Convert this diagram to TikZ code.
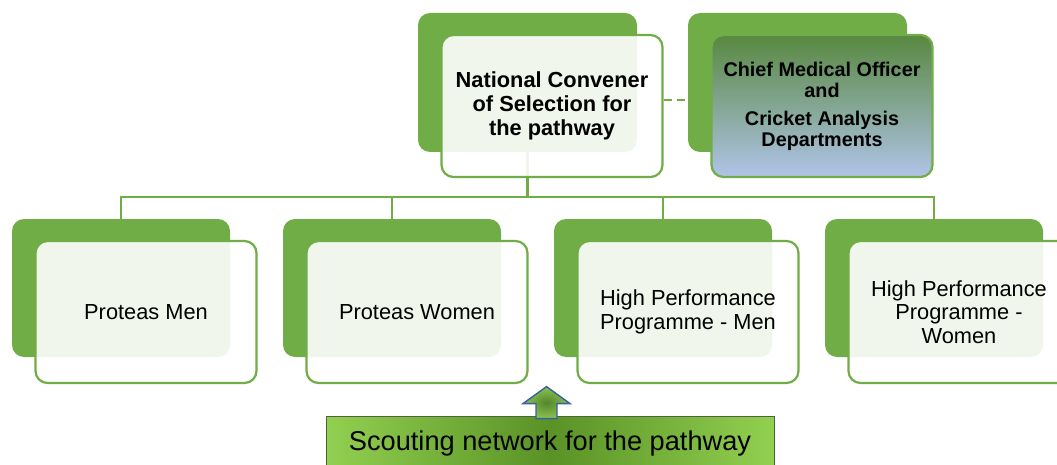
\documentclass[tikz,border=0pt]{standalone}
\usepackage{fontspec}
\setmainfont{Liberation Sans}
\usetikzlibrary{calc}

\definecolor{grn}{RGB}{112,173,71}
\definecolor{chieftop}{RGB}{88,136,64}
\definecolor{chiefbot}{RGB}{176,196,232}
\definecolor{scoutedge}{RGB}{146,208,80}
\definecolor{scoutmid}{RGB}{90,146,38}
\definecolor{arrowline}{RGB}{58,96,160}
\definecolor{arrowin}{RGB}{84,134,42}
\definecolor{arrowout}{RGB}{138,196,82}

\tikzset{
  backbox/.style={rectangle, rounded corners=12pt, fill=grn, draw=none,
    minimum width=219pt, minimum height=139pt, inner sep=0pt},
  frontbox/.style={rectangle, rounded corners=12pt, draw=grn, line width=2.2pt,
    fill=white, fill opacity=0.9, text opacity=1, text=black,
    minimum width=221pt, minimum height=142pt, inner sep=0pt, align=center,
    font=\fontsize{21.8}{23.5}\selectfont},
  boldtext/.style={font=\bfseries\fontsize{21.8}{24}\selectfont},
  link/.style={draw=grn, line width=2.2pt},
  dashlink/.style={draw=grn, line width=1.6pt, dash pattern=on 8pt off 5pt},
}

\begin{document}
\begin{tikzpicture}[x=1pt, y=-1pt]
\useasboundingbox (0,0) rectangle (1057,465);
\clip (0,0) rectangle (1057,465);

% back (solid green) cards
\node[backbox] (ncb) at (527.5,82.5) {};
\node[backbox] (cmb) at (797.5,82.5) {};
\node[backbox, minimum width=218pt, minimum height=138pt] (pmb) at (121,288) {};
\node[backbox, minimum width=218pt, minimum height=138pt] (pwb) at (392,288) {};
\node[backbox, minimum width=218pt, minimum height=138pt] (hmb) at (663,288) {};
\node[backbox, minimum width=218pt, minimum height=138pt] (hwb) at (934,288) {};

% tree connectors from the convener to the four squads
\coordinate (bus) at (527.5,197);
\draw[link] (ncb.south) -- (bus);
\draw[link] (bus) -| (pmb.north);
\draw[link] (bus) -| (pwb.north);
\draw[link] (bus) -| (hmb.north);
\draw[link] (bus) -| (hwb.north);

% front cards
\node[frontbox, boldtext] (ncf) at (552,106)
  {National Convener\\of Selection for\\the pathway};
\node[frontbox, fill opacity=1, top color=chieftop, bottom color=chiefbot,
      font=\bfseries\fontsize{19.8}{21}\selectfont] (cmf) at (822,106)
  {Chief Medical Officer\\and\\[7pt]Cricket Analysis\\Departments};
\node[frontbox] (pmf) at (146,312) {Proteas Men};
\node[frontbox] (pwf) at (417,312) {Proteas Women};
\node[frontbox] (hmf) at (688,312) {High Performance\\Programme - Men};
\node[frontbox] (hwf) at (959,312) {High Performance\\Programme -\\Women};

% dashed relation to the support departments
\draw[dashlink] ([yshift=6pt]ncf.east) -- ([yshift=6pt]ncf.east -| cmb.west);

% scouting network feeding the pathway
\node[rectangle, draw={rgb,255:red,80;green,96;blue,64}, line width=0.8pt,
      left color=scoutedge, right color=scoutedge, middle color=scoutmid,
      minimum width=448pt, minimum height=54pt, inner sep=0pt,
      font=\fontsize{27.2}{29}\selectfont, text=black] (scout) at (550,443)
  {\raisebox{3pt}{Scouting network for the pathway}};

% block arrow pointing up from the scouting network
\path[draw=arrowline, line width=1.4pt, line join=miter,
      inner color=arrowin, outer color=arrowout]
  ($(scout.north)+(-14,3)$) -- ++(0,-15) -- ++(-13,0) -- ++(23.5,-17)
  -- ++(23.5,17) -- ++(-13,0) -- ++(0,15) -- cycle;
\end{tikzpicture}
\end{document}
